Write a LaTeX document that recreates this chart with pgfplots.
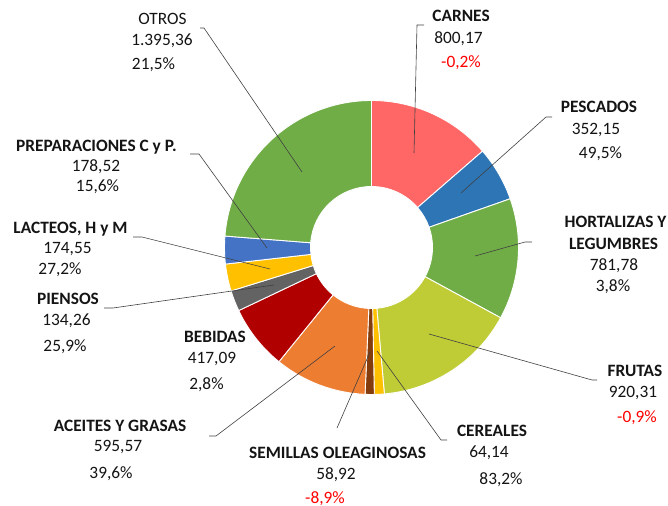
\documentclass[border=0pt]{standalone}
\usepackage{pgfplots}
\usepackage{pgfplotstable}
\pgfplotsset{compat=1.18}
\usepackage{fontspec}
\setmainfont{Carlito}
\definecolor{cCarnes}{HTML}{FF6666}
\definecolor{cPescados}{HTML}{2E75B6}
\definecolor{cHort}{HTML}{70AD47}
\definecolor{cFrutas}{HTML}{BFCC36}
\definecolor{cCereales}{HTML}{FFC000}
\definecolor{cSemillas}{HTML}{843C0C}
\definecolor{cAceites}{HTML}{ED7D31}
\definecolor{cBebidas}{HTML}{B00000}
\definecolor{cPiensos}{HTML}{636363}
\definecolor{cLacteos}{HTML}{FFC000}
\definecolor{cPrep}{HTML}{4472C4}
\definecolor{cOtros}{HTML}{70AD47}
\definecolor{txt}{HTML}{141414}
\definecolor{lead}{HTML}{404040}

\tikzset{
  lbl/.style={anchor=base, inner sep=0pt, outer sep=0pt, yshift=-5.6bp,
    font=\fontsize{17.4}{20}\selectfont, text=txt},
  bl/.style={lbl, font=\fontsize{17.4}{20}\selectfont\bfseries},
  rl/.style={lbl, text=red},
  leader/.style={draw=lead, line width=0.6pt, mark=none}}

\pgfplotstableread{
cat value col
Carnes 800.17 cCarnes
Pescados 352.15 cPescados
Hortalizas 781.78 cHort
Frutas 920.31 cFrutas
Cereales 64.14 cCereales
Semillas 58.92 cSemillas
Aceites 595.57 cAceites
Bebidas 417.09 cBebidas
Piensos 134.26 cPiensos
Lacteos 174.55 cLacteos
Preparaciones 178.52 cPrep
Otros 1395.36 cOtros
}\donut

\begin{document}
\begin{tikzpicture}
\begin{axis}[x=1bp, y=1bp, xmin=0, xmax=668, ymin=0, ymax=506, y dir=reverse,
  hide axis, clip=false]
\path (axis cs:0,0) rectangle (axis cs:668,506);
\pgfplotstablegetrowsof{\donut}
\pgfmathtruncatemacro\N{\pgfplotsretval-1}
\def\tot{0}
\pgfplotsforeachungrouped \i in {0,...,\N}{%
  \pgfplotstablegetelem{\i}{value}\of\donut
  \pgfmathsetmacro\tot{\tot+\pgfplotsretval}%
}
\def\cum{0}
\pgfplotsforeachungrouped \i in {0,...,\N}{%
  \pgfplotstablegetelem{\i}{value}\of\donut \let\sliceval\pgfplotsretval
  \pgfplotstablegetelem{\i}{col}\of\donut \let\slicecol\pgfplotsretval
  \pgfmathsetmacro\aa{90-360*(\cum/\tot)}%
  \pgfmathsetmacro\cum{\cum+\sliceval}%
  \pgfmathsetmacro\bb{90-360*(\cum/\tot)}%
  \edef\temp{\noexpand\fill[\slicecol, draw=white, line width=0.9pt, line join=round]
    (axis cs:371.5,247.5) ++(\aa:147bp) arc[start angle=\aa, end angle=\bb, radius=147bp]
    -- ++(\bb:-86bp) arc[start angle=\bb, end angle=\aa, radius=61bp] -- cycle;}%
  \temp
}
% leader lines
\addplot[leader] coordinates {(424,25) (417,25) (414,153)};
\addplot[leader] coordinates {(552,117) (546,117) (461,193)};
\addplot[leader] coordinates {(532,242) (525,242) (475,256)};
\addplot[leader] coordinates {(597,380) (592,380) (429,334)};
\addplot[leader] coordinates {(447,440) (441,440) (377,351)};
\addplot[leader] coordinates {(337,428) (370,352)};
\addplot[leader] coordinates {(209,436) (216,436) (335,346)};
\addplot[leader] coordinates {(104,308) (113,308) (274,285)};
\addplot[leader] coordinates {(133,237) (142,237) (270,269)};
\addplot[leader] coordinates {(190,154) (199,154) (267,248)};
\addplot[leader] coordinates {(200,28) (204,28) (302,172)};
% labels
\node[bl] at (axis cs:461,15.5) {CARNES};
\node[lbl] at (axis cs:458.5,37.5) {800,17};
\node[rl] at (axis cs:461,61.5) {-0,2\%};
\node[bl] at (axis cs:599,106.5) {PESCADOS};
\node[lbl] at (axis cs:596,128.5) {352,15};
\node[lbl] at (axis cs:600.5,152.5) {49,5\%};
\node[bl] at (axis cs:615.5,222) {HORTALIZAS Y};
\node[bl] at (axis cs:613.5,243.5) {LEGUMBRES};
\node[lbl] at (axis cs:614,264.5) {781,78};
\node[lbl] at (axis cs:613,286) {3,8\%};
\node[bl] at (axis cs:635,370.5) {FRUTAS};
\node[lbl] at (axis cs:633,391.5) {920,31};
\node[rl] at (axis cs:637,417) {-0,9\%};
\node[bl] at (axis cs:492,430.5) {CEREALES};
\node[lbl] at (axis cs:489,452) {64,14};
\node[lbl] at (axis cs:501,479) {83,2\%};
\node[bl] at (axis cs:337.5,452.5) {SEMILLAS OLEAGINOSAS};
\node[lbl] at (axis cs:336,474) {58,92};
\node[rl] at (axis cs:325,497.5) {-8,9\%};
\node[bl] at (axis cs:120,425.5) {ACEITES Y GRASAS};
\node[lbl] at (axis cs:118,446) {595,57};
\node[lbl] at (axis cs:111,473) {39,6\%};
\node[bl] at (axis cs:215,336.5) {BEBIDAS};
\node[lbl] at (axis cs:212,358) {417,09};
\node[lbl] at (axis cs:206.5,384) {2,8\%};
\node[bl] at (axis cs:68,298.5) {PIENSOS};
\node[lbl] at (axis cs:66.5,320) {134,26};
\node[lbl] at (axis cs:65,345.5) {25,9\%};
\node[bl] at (axis cs:70.5,228) {LACTEOS, H y M};
\node[lbl] at (axis cs:67.5,248) {174,55};
\node[lbl] at (axis cs:60,269) {27,2\%};
\node[bl] at (axis cs:96.5,145.5) {PREPARACIONES C y P.};
\node[lbl] at (axis cs:96,166) {178,52};
\node[lbl] at (axis cs:97.5,185.5) {15,6\%};
\node[lbl] at (axis cs:162.5,18.5) {OTROS};
\node[lbl] at (axis cs:162,40) {1.395,36};
\node[lbl] at (axis cs:153.5,64) {21,5\%};
\end{axis}
\end{tikzpicture}
\end{document}
